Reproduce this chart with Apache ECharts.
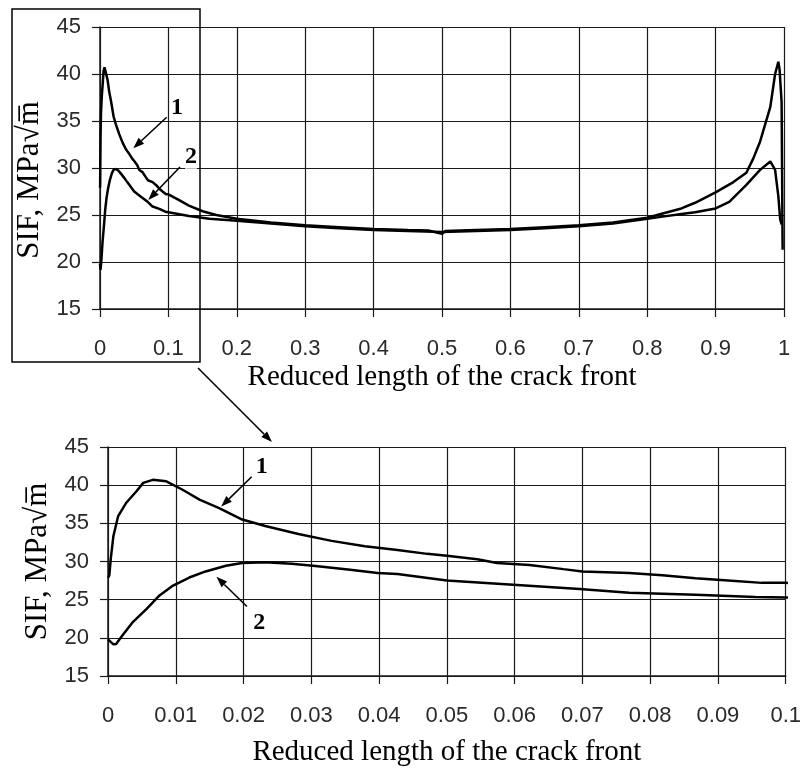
<!DOCTYPE html>
<html><head><meta charset="utf-8">
<script src="https://cdn.jsdelivr.net/npm/echarts@6/dist/echarts.min.js"></script>
<style>html,body{margin:0;padding:0;background:#fff}#c{width:804px;height:768px}</style>
</head><body><div id="c"></div>
<script>
// Curve 1
const x1 = [0, 0.0002, 0.0004, 0.0008, 0.0015, 0.0027, 0.0042, 0.0052, 0.0066, 0.0086, 0.011, 0.0135, 0.0164, 0.0198, 0.0232, 0.0281, 0.033, 0.0379, 0.0427, 0.0471, 0.05, 0.0545, 0.0574, 0.0622, 0.0672, 0.07, 0.0769, 0.0818, 0.0867, 0.0915, 0.0965, 0.1,
  0.115, 0.13, 0.15, 0.17, 0.2, 0.25, 0.3, 0.35, 0.4, 0.45, 0.48, 0.5, 0.505, 0.55, 0.6, 0.65, 0.7, 0.75, 0.8, 0.82, 0.85, 0.87, 0.9, 0.926, 0.945, 0.955, 0.965, 0.98, 0.987, 0.9917, 0.9935, 0.9965, 0.998];
const y1 = [27.9, 28.2, 30.3, 33.35, 35.95, 37.7, 39.2, 40.3, 40.7, 40.5, 39.4, 38.1, 37.0, 35.5, 34.65, 33.6, 32.7, 32.0, 31.5, 31.0, 30.75, 30.3, 29.8, 29.55, 29.0, 28.7, 28.5, 28.2, 27.8, 27.5, 27.2, 27.2,
  26.6, 26.0, 25.4, 25.0, 24.6, 24.2, 23.9, 23.7, 23.5, 23.4, 23.35, 23.0, 23.3, 23.4, 23.5, 23.7, 23.9, 24.2, 24.7, 25.1, 25.7, 26.3, 27.4, 28.5, 29.5, 31.0, 32.8, 36.5, 40.0, 41.3, 40.5, 37.0, 21.3];
// Curve 2
const x2 = [0, 0.0002, 0.0008, 0.0012, 0.0022, 0.0037, 0.0057, 0.0076, 0.0096, 0.012, 0.0144, 0.0174, 0.0198, 0.0232, 0.0271, 0.0306, 0.0354, 0.0398, 0.0427, 0.05, 0.0598, 0.0696, 0.0769, 0.0867, 0.0955, 0.1,
  0.13, 0.16, 0.2, 0.25, 0.3, 0.35, 0.4, 0.45, 0.5, 0.55, 0.6, 0.65, 0.7, 0.75, 0.8, 0.82, 0.85, 0.87, 0.9, 0.92, 0.945, 0.965, 0.98, 0.987, 0.9917, 0.9945, 0.9965];
const y2 = [19.8, 19.6, 19.15, 19.2, 20.4, 22.1, 23.8, 25.55, 26.85, 27.9, 28.7, 29.45, 29.8, 29.9, 29.7, 29.4, 28.95, 28.5, 28.35, 27.5, 26.95, 26.4, 25.9, 25.65, 25.35, 25.3,
  24.9, 24.6, 24.4, 24.1, 23.8, 23.6, 23.4, 23.3, 23.2, 23.3, 23.4, 23.6, 23.8, 24.1, 24.6, 24.8, 25.1, 25.3, 25.7, 26.4, 28.2, 29.8, 30.7, 29.8, 27.0, 24.5, 24.0];

const yMin = 15, yMax = 45, yStep = 5;
const topXMin = 0, topXMax = 1, topXStep = 0.1;
const botXMin = 0, botXMax = 0.1, botXStep = 0.01;
const xTitle = 'Reduced length of the crack front';
const yTitle = 'SIF, MPa\u221Am\u0305';
const curveLabels = ['1', '2'];

const ink = '#1a1a1a';
const labelFont = {fontFamily: 'Liberation Sans', fontSize: 22, color: '#2a2a2a'};
const xTitleFont = {fontFamily: 'Liberation Serif', fontSize: 29, color: '#000'};
const yTitleFont = {fontFamily: 'Liberation Serif', fontSize: 31, color: '#000'};

function xAxisCfg(gi, min, max, step, gap) {
  return {
    type: 'value', gridIndex: gi, min: min, max: max, interval: step,
    name: xTitle, nameLocation: 'middle', nameGap: gap, nameTextStyle: xTitleFont,
    axisLine: {lineStyle: {color: ink, width: 1.5}},
    axisTick: {show: true, length: 8, lineStyle: {color: ink, width: 1.2}},
    axisLabel: Object.assign({margin: 29, formatter: v => String(+v.toFixed(3))}, labelFont),
    splitLine: {show: true, lineStyle: {color: ink, width: 1.2}}
  };
}
function yAxisCfg(gi, gap, pad) {
  return {
    type: 'value', gridIndex: gi, min: yMin, max: yMax, interval: yStep,
    name: yTitle, nameLocation: 'middle', nameGap: gap, nameRotate: 90,
    nameTextStyle: Object.assign({padding: pad}, yTitleFont),
    axisLine: {show: true, lineStyle: {color: ink, width: 1.5}},
    axisTick: {show: true, length: 8, lineStyle: {color: ink, width: 1.2}},
    axisLabel: Object.assign({margin: 19}, labelFont),
    splitLine: {show: true, lineStyle: {color: ink, width: 1.2}}
  };
}
const d1 = x1.map((x, i) => [x, y1[i]]);
const d2 = x2.map((x, i) => [x, y2[i]]);
function line(gi, data) {
  return {type: 'line', xAxisIndex: gi, yAxisIndex: gi, data: data, showSymbol: false, symbol: 'none',
    clip: true, lineStyle: {color: '#000', width: 2.5}, animation: false};
}

const chart = echarts.init(document.getElementById('c'));
chart.setOption({
  backgroundColor: '#fff',
  animation: false,
  grid: [
    {left: 100, right: 20, top: 27, height: 282},
    {left: 108, right: 13, top: 447, height: 231}
  ],
  xAxis: [xAxisCfg(0, topXMin, topXMax, topXStep, 54), xAxisCfg(1, botXMin, botXMax, botXStep, 62)],
  yAxis: [yAxisCfg(0, 45, [0, 24, 0, 0]), yAxisCfg(1, 55, 0)],
  series: [line(0, d1), line(0, d2), line(1, d1), line(1, d2)]
});

// annotations in data coordinates: [grid, labelPos, arrowFrom, arrowTo, text]
const notes = [
  [0, [0.1126, 36.4], [0.0975, 35.4], [0.0487, 32.1], curveLabels[0]],
  [0, [0.133, 31.2], [0.117, 30.1], [0.0706, 26.6], curveLabels[1]],
  [1, [0.0227, 42.4], [0.0212, 41.1], [0.0167, 37.2], curveLabels[0]],
  [1, [0.0223, 22.0], [0.0205, 24.1], [0.016, 28.0], curveLabels[1]]
];
function arrow(p, q) {
  const dx = q[0] - p[0], dy = q[1] - p[1], L = Math.hypot(dx, dy);
  const ux = dx / L, uy = dy / L, h = 11, w = 4;
  const b = [q[0] - ux * h, q[1] - uy * h];
  return [
    {type: 'line', shape: {x1: p[0], y1: p[1], x2: b[0], y2: b[1]}, style: {stroke: '#000', lineWidth: 1.6}, z: 100},
    {type: 'polygon', shape: {points: [q, [b[0] - uy * w, b[1] + ux * w], [b[0] + uy * w, b[1] - ux * w]]}, style: {fill: '#000'}, z: 100}
  ];
}
const g = [];
notes.forEach(n => {
  const f = {xAxisIndex: n[0], yAxisIndex: n[0]};
  const lp = chart.convertToPixel(f, n[1]);
  const a = chart.convertToPixel(f, n[2]);
  const b = chart.convertToPixel(f, n[3]);
  g.push({type: 'text', x: lp[0], y: lp[1], z: 100, style: {text: n[4], font: 'bold 24px "Liberation Serif"', fill: '#000', align: 'center', verticalAlign: 'middle', backgroundColor: '#fff'}});
  g.push(...arrow(a, b));
});
// zoom box and connector arrow
g.push({type: 'rect', shape: {x: 12, y: 9, width: 188, height: 353}, style: {fill: 'none', stroke: '#000', lineWidth: 1.5}, z: 100});
g.push(...arrow([198, 368], [272, 442]));
chart.setOption({graphic: g});
</script></body></html>
